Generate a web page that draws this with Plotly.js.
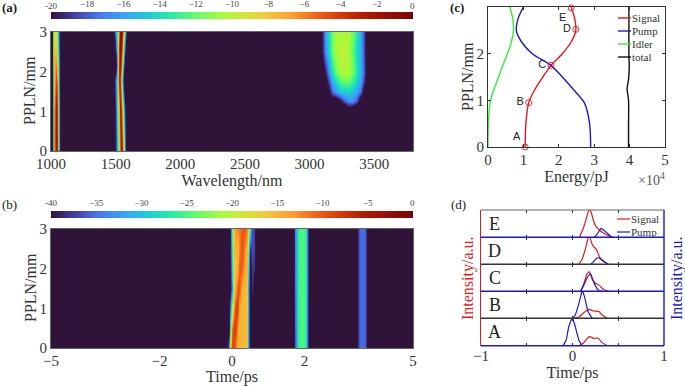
<!DOCTYPE html>
<html><head><meta charset="utf-8">
<script src="https://cdn.plot.ly/plotly-3.0.1.min.js"></script>
<style>html,body{margin:0;padding:0;background:#fff}#c{width:685px;height:386px}</style>
</head><body><div id="c"></div>
<script>
// ---- (a) spectrum, dB vs wavelength (nm) and PPLN position (mm)
const specSignalNm = [1005,1013,1020,1028,1036,1044,1052,1060,1068];
const specSignalMm = [0,1,1.7,2.2,3];
const specSignalDb = [
 [-22,-19,-13,-6,-1.5,-3,-11,-17,-22],
 [-22,-19,-13,-6,-2,-3.5,-11,-17,-22],
 [-22,-19,-13,-8,-3.5,-6,-12,-18,-22],
 [-22,-18,-12,-7,-6,-9,-13,-18,-22],
 [-22,-17,-11,-9,-10,-13,-16,-19,-22]];
const specPumpNm = [1482,1490,1498,1506,1514,1522,1530,1538,1546,1554,1562,1570,1578,1586];
const specPumpMm = [0,1,1.8,2.2,2.6,3];
const specPumpDb = [
 [-22,-22,-19,-16,-14,-11,-6,-2.5,-2,-6,-11,-16,-22,-22],
 [-22,-20,-18,-15,-12,-8,-3,-2,-6,-11,-15,-19,-22,-22],
 [-22,-19,-17,-14,-9,-3,-2.5,-7,-13,-18,-22,-22,-22,-22],
 [-22,-22,-22,-18,-11,-4,-1.5,-3,-8,-13,-18,-22,-22,-22],
 [-22,-21,-18,-15,-10,-4,-1,-1,-4,-9,-14,-18,-22,-22],
 [-22,-18,-16,-14,-11,-6,-1.5,-0.5,-2,-5,-9,-14,-18,-22]];
const specIdlerNm = [3060,3090,3120,3150,3180,3210,3240,3270,3300,3330,3360,3390,3420,3450,3480];
const specIdlerMm = [1,1.12,1.25,1.5,1.75,2,2.5,3];
const specIdlerDb = [
 [-22,-22,-22,-22,-22,-22,-22,-22,-22,-22,-22,-22,-22,-22,-22],
 [-22,-22,-22,-22,-22,-22,-22,-22,-20,-20.5,-22,-22,-22,-22,-22],
 [-22,-22,-22,-22,-22,-22,-20,-18,-16.5,-16.5,-18,-22,-22,-22,-22],
 [-22,-22,-22,-20,-17.5,-16,-15,-14.5,-14.5,-15,-16,-17.5,-21,-22,-22],
 [-22,-22,-21,-18,-15.5,-14,-12.5,-12,-12,-13,-14.5,-16,-18.5,-22,-22],
 [-22,-22,-19.5,-16,-13.5,-11.5,-10.5,-10,-10.5,-11.5,-13.5,-15.5,-17.5,-22,-22],
 [-22,-20.5,-16.5,-14,-11.5,-10.5,-10,-10,-10.5,-12,-14,-15.5,-18,-22,-22],
 [-22,-20.5,-16,-13.5,-11.5,-10.5,-10.5,-10.5,-10.5,-11.5,-13.5,-15.5,-18,-22,-22]];
const wavelengthTicks = [1000,1500,2000,2500,3000,3500];
const specBarTicks = [-18,-16,-14,-12,-10,-8,-6,-4,-2];

// ---- (b) temporal, dB vs time (ps) and PPLN position (mm)
const timeMainPs = [-0.2,-0.15,-0.1,-0.05,0,0.05,0.1,0.15,0.2,0.25,0.3,0.35,0.4,0.45,0.5,0.55,0.6,0.65,0.7];
const timeMainMm = [0,0.5,1,1.5,2,2.5,3];
const timeMainDb = [
 [-42,-42,-34,-18,-8.5,-9,-12.5,-15,-15,-15,-15,-15,-16,-30,-42,-42,-42,-42,-42],
 [-42,-42,-42,-30,-12,-8,-9,-14,-15,-15,-15,-15,-16,-30,-42,-42,-42,-42,-42],
 [-42,-42,-42,-36,-22,-13,-8,-9,-14,-15,-15,-15,-16,-30,-42,-42,-42,-42,-42],
 [-42,-42,-42,-42,-34,-17,-13,-9.5,-9.5,-13,-15,-15,-17,-31,-42,-38,-42,-42,-42],
 [-42,-42,-42,-42,-30,-16,-15,-14,-10.5,-10,-12,-14,-15,-26,-42,-38,-38,-42,-42],
 [-42,-42,-42,-42,-28,-15,-15,-15,-13,-10,-10,-13,-15,-22,-38,-37,-37,-42,-42],
 [-42,-42,-42,-42,-26,-15,-13,-12,-12,-11,-10,-10,-12,-14,-28,-37,-37,-42,-42]];
const timeSidePs = [1.70,1.74,1.78,1.83,1.9,1.98,2.04,2.08,2.12];
const timeSideMm = [0,3];
const timeSideDb = [
 [-42,-36,-31,-26,-25,-25,-27,-34,-42],
 [-42,-34,-30,-26,-25,-25,-27,-33,-42]];
const timeFarPs = [3.42,3.47,3.52,3.58,3.66,3.71,3.75];
const timeFarMm = [0,3];
const timeFarDb = [
 [-42,-38,-35.5,-35,-35.5,-38,-42],
 [-42,-38,-35.5,-35,-35.5,-38,-42]];
const timeTicks = [-5,-2,0,2,5];
const timeBarTicks = [-35,-30,-25,-20,-15,-10,-5];

// ---- (c) energy along the crystal (x 10^4 pJ)
const energyMm     = [0,0.5,0.95,1.2,1.5,1.75,2,2.25,2.5,2.75,3];
const energySignal = [1.05,1.07,1.15,1.3,1.55,1.78,2.1,2.35,2.48,2.45,2.35];
const energyPump   = [2.9,2.87,2.72,2.45,2.1,1.78,1.25,0.95,0.8,0.85,1.0];
const energyIdler  = [0,0.01,0.06,0.15,0.3,0.42,0.55,0.66,0.72,0.7,0.62];
const totalMm      = [0,0.5,1,1.25,1.45,1.7,2,2.5,3];
const energyTotal  = [3.97,3.97,3.97,3.93,3.97,3.99,3.98,3.98,3.98];
const pointNames   = ['A','B','C','D','E'];
const pointEnergy  = [1.05,1.15,1.78,2.48,2.35];
const pointMm      = [0,0.95,1.75,2.52,2.98];

// ---- (d) pulse shapes at the five points
const rowNames = ['E','D','C','B','A'];
const signalPs = [
 [0.076,0.12,0.156,0.18,0.2,0.23,0.26,0.3,0.356,0.41,0.45],
 [0.065,0.1,0.14,0.175,0.19,0.22,0.26,0.3,0.34,0.39],
 [0.087,0.12,0.16,0.185,0.215,0.25,0.295,0.34,0.4],
 [0.015,0.07,0.12,0.18,0.23,0.29,0.32,0.38],
 [-0.1,0.07,0.12,0.185,0.23,0.28,0.32,0.38]];
const signalAmp = [
 [0,0.35,0.75,1,0.95,0.6,0.38,0.25,0.12,0.03,0],
 [0,0.15,0.55,1,0.98,0.7,0.55,0.25,0.12,0],
 [0,0.25,0.65,0.72,0.45,0.3,0.22,0.06,0],
 [0,0.05,0.2,0.33,0.27,0.25,0.13,0],
 [0.01,0,0.1,0.33,0.27,0.27,0.12,0]];
const pumpPs = [
 [0.235,0.265,0.31,0.34,0.38,0.43],
 [0.2,0.235,0.27,0.3,0.34,0.39],
 [0.087,0.12,0.16,0.196,0.22,0.25,0.29,0.32],
 [0,0.03,0.07,0.1,0.11,0.135,0.17,0.215],
 [-0.105,-0.07,-0.04,0,0.03,0.07,0.105]];
const pumpAmp = [
 [0,0.1,0.32,0.27,0.15,0],
 [0,0.12,0.24,0.22,0.1,0],
 [0,0.2,0.5,0.65,0.45,0.2,0.02,0],
 [0,0.12,0.55,0.95,1,0.75,0.25,0],
 [0,0.2,0.7,1,0.7,0.2,0]];
const dividerColors = ['#1a1acc','#333333','#1a1acc','#333333','#1a1acc'];
const pulseTicks = [-1,0,1];
const pulseMinorTicks = [-0.5,0.5];

const W = 685, H = 386;
const SERIF = '"Liberation Serif","Times New Roman",serif';
const SANS = '"Liberation Sans",Arial,sans-serif';
const RED = '#e8161c', BLUE = '#1a1acc', GREEN = '#33ee33', INK = '#333333', FRAME = '#666666', DARK = '#2f1339';
const TURBO = [[0,'#30123b'],[0.07,'#4145ab'],[0.13,'#4675ed'],[0.2,'#39a2fc'],[0.27,'#1bcfd4'],[0.33,'#24eca6'],[0.4,'#61fc6c'],[0.47,'#a4fc3b'],[0.53,'#d1e834'],[0.6,'#f3c63a'],[0.67,'#fe9b2d'],[0.73,'#f36315'],[0.8,'#d93806'],[0.87,'#b11901'],[1,'#7a0403']];
const dx = (a,b)=>[a/W,b/W];
const dy = (top,bot)=>[1-bot/H,1-top/H];

const traces = [];
function heat(x,y,z,xa,ya,ca){ traces.push({type:'heatmap',x,y,z,xaxis:xa,yaxis:ya,coloraxis:ca,zsmooth:'best',hoverinfo:'skip'}); }
heat(specSignalNm,specSignalMm,specSignalDb,'x','y','coloraxis');
heat(specPumpNm,specPumpMm,specPumpDb,'x','y','coloraxis');
heat(specIdlerNm,specIdlerMm,specIdlerDb,'x','y','coloraxis');
heat(timeMainPs,timeMainMm,timeMainDb,'x2','y2','coloraxis2');
heat(timeSidePs,timeSideMm,timeSideDb,'x2','y2','coloraxis2');
heat(timeFarPs,timeFarMm,timeFarDb,'x2','y2','coloraxis2');

function eline(name,x,y,color){ traces.push({type:'scatter',mode:'lines',name,x,y,xaxis:'x3',yaxis:'y3',legend:'legend',
  line:{color,width:1.4,shape:'spline',smoothing:0.8}}); }
eline('Signal',energySignal,energyMm,RED);
eline('Pump',energyPump,energyMm,BLUE);
eline('Idler',energyIdler,energyMm,GREEN);
eline('total',energyTotal,totalMm,'#111111');
traces.push({type:'scatter',mode:'markers+text',x:pointEnergy,y:pointMm,xaxis:'x3',yaxis:'y3',showlegend:false,cliponaxis:false,
  text:pointNames,textposition:['top left','middle left','middle left','middle left','bottom left'],
  textfont:{family:SANS,size:11,color:'#222'},
  marker:{symbol:'circle-open',size:6,color:RED,line:{width:0.9,color:RED}}});

const cb = (yPx,vals)=>({orientation:'h',x:232/W,xanchor:'center',y:1-yPx/H,yanchor:'bottom',
    lenmode:'pixels',len:362,thicknessmode:'pixels',thickness:7,xpad:0,ypad:0,outlinewidth:0,ticks:'inside',ticklen:9,tickcolor:'rgba(0,0,0,0)',
    ticklabelposition:'inside',tickfont:{family:SERIF,size:9,color:'#444'},tickmode:'array',tickvals:vals});
const rowTop = [210,237.3,264.3,291.3,318.3], rowBot = [237.3,264.3,291.3,318.3,345.7];
const layout = {
  width:W,height:H,autosize:false,margin:{l:0,r:0,t:0,b:0},paper_bgcolor:'#fff',plot_bgcolor:'#fff',
  font:{family:SERIF,color:INK,size:14},
  coloraxis:{colorscale:TURBO,cmin:-20,cmax:0,colorbar:cb(19.5,specBarTicks)},
  coloraxis2:{colorscale:TURBO,cmin:-40,cmax:0,colorbar:cb(217.5,timeBarTicks)},
  legend:{x:592/W,xanchor:'left',y:1-3/H,yanchor:'top',bgcolor:'rgba(0,0,0,0)',borderwidth:0,tracegroupgap:0,font:{family:SERIF,size:11,color:INK},itemclick:false},
  legend2:{x:591/W,xanchor:'left',y:1-205/H,yanchor:'top',bgcolor:'rgba(0,0,0,0)',borderwidth:0,tracegroupgap:0,font:{family:SERIF,size:11,color:INK},itemclick:false},
  shapes:[
    {type:'rect',xref:'x domain',yref:'y domain',x0:0,x1:1,y0:0,y1:1,fillcolor:DARK,line:{width:0},layer:'below'},
    {type:'rect',xref:'x2 domain',yref:'y2 domain',x0:0,x1:1,y0:0,y1:1,fillcolor:DARK,line:{width:0},layer:'below'}
  ],annotations:[]
};
function base(extra){ return Object.assign({showline:true,mirror:true,linecolor:FRAME,linewidth:1,showgrid:false,zeroline:false,ticks:'',ticklabelstandoff:-1,tickfont:{family:SERIF,size:15,color:INK}},extra); }
const xTitle = (t,s)=>({text:t,font:{family:SERIF,size:16,color:INK},standoff:s||0});
layout.xaxis = base({domain:dx(51,413),anchor:'y',range:[1000,3800],tickmode:'array',tickvals:wavelengthTicks,title:xTitle('Wavelength/nm')});
layout.yaxis = base({domain:dy(32,151),anchor:'x',range:[0,3],tickvals:[0,1,2,3],ticklabelstandoff:0});
layout.xaxis2 = base({domain:dx(51,413),anchor:'y2',range:[-5,5],tickmode:'array',tickvals:timeTicks,title:xTitle('Time/ps')});
layout.yaxis2 = base({domain:dy(229,348),anchor:'x2',range:[0,3],tickvals:[0,1,2,3],ticklabelstandoff:0});
layout.xaxis3 = base({domain:dx(488,665),anchor:'y3',range:[0,5],tickvals:[0,1,2,3,4,5],mirror:'ticks',ticks:'inside',ticklen:3,linecolor:INK,tickcolor:INK,title:xTitle('Energy/pJ')});
layout.yaxis3 = base({domain:dy(7,147),anchor:'x3',range:[0,3],tickvals:[0,1,2,3],mirror:'ticks',ticks:'inside',ticklen:3,linecolor:INK,tickcolor:INK,ticklabelstandoff:0});

// panel (d): five stacked rows sharing the time range
rowNames.forEach((nm,i)=>{
  const n = 4+i, xk='xaxis'+n, yk='yaxis'+n, xr='x'+n, yr='y'+n, last = i===4;
  layout[xk] = {domain:dx(481,664),anchor:yr,range:[-1,1],showline:false,showgrid:false,zeroline:false,mirror:'ticks',ticks:'inside',ticklen:2.5,tickcolor:INK,tickwidth:1,
    tickmode:'array',tickvals:pulseTicks,showticklabels:last,minor:{tickmode:'array',tickvals:pulseMinorTicks,ticks:'inside',ticklen:2.5,tickcolor:INK,tickwidth:1}};
  if(last){ layout[xk].tickfont={family:SERIF,size:15,color:INK}; layout[xk].ticklabelstandoff=-1; layout[xk].title=xTitle('Time/ps',3); }
  layout[yk] = {domain:dy(rowTop[i],rowBot[i]),anchor:xr,range:[0,1],showline:true,linecolor:RED,linewidth:1.4,showgrid:false,zeroline:false,ticks:'',showticklabels:false};
  const showlegend = i===0;
  traces.push({type:'scatter',mode:'lines',name:'Signal',x:signalPs[i],y:signalAmp[i],xaxis:xr,yaxis:yr,legend:'legend2',showlegend,line:{color:RED,width:1.2,shape:'spline',smoothing:0.6}});
  traces.push({type:'scatter',mode:'lines',name:'Pump',x:pumpPs[i],y:pumpAmp[i],xaxis:xr,yaxis:yr,legend:'legend2',showlegend,line:{color:BLUE,width:1.2,shape:'spline',smoothing:0.6}});
  layout.shapes.push({type:'line',xref:xr+' domain',yref:yr+' domain',x0:0,x1:1,y0:0,y1:0,line:{color:dividerColors[i],width:1.4},layer:'above'});
  layout.annotations.push({xref:xr,yref:yr+' domain',x:-0.85,y:0.5,text:nm,showarrow:false,xanchor:'center',yanchor:'middle',font:{family:SERIF,size:18,color:'#222'}});
});
layout.shapes.push({type:'line',xref:'x4 domain',yref:'paper',x0:0,x1:1,y0:1-210/H,y1:1-210/H,line:{color:FRAME,width:1.2},layer:'above'});
layout.shapes.push({type:'line',xref:'x4 domain',yref:'paper',x0:1,x1:1,y0:1-345.7/H,y1:1-210/H,line:{color:BLUE,width:1.4},layer:'above'});

function note(text,px,py,font,extra){ layout.annotations.push(Object.assign({xref:'paper',yref:'paper',x:px/W,y:1-py/H,text,showarrow:false,xanchor:'center',yanchor:'middle',font},extra||{})); }
const lab = {family:SERIF,size:13,color:'#222'};
const yt = c=>({family:SERIF,size:16,color:c});
const bt = {family:SERIF,size:9,color:'#444'};
note('-20',51,6,bt); note('0',413,6,bt);
note('-40',51,203,bt); note('0',413,203,bt);
note('<b>(a)</b>',9,8,lab);
note('(b)',9,204,lab);
note('<b>(c)</b>',457,8,lab);
note('(d)',458,204,lab);
note('×10<sup>4</sup>',651,179,{family:SERIF,size:14,color:'#555'});
note('PPLN/mm',30,91,yt(INK),{textangle:-90});
note('PPLN/mm',30,288,yt(INK),{textangle:-90});
note('PPLN/mm',467,77,yt(INK),{textangle:-90});
note('Intensity/a.u.',468,278,yt(RED),{textangle:-90});
note('Intensity/a.u.',677,278,yt(BLUE),{textangle:-90});

const legendCenters = [[18,31,44,57],[219,232]];
Plotly.newPlot('c',traces,layout,{displayModeBar:false,staticPlot:true}).then(gd=>{
  // the reference draws short, tightly spaced legend keys
  gd.querySelectorAll('.legendlines path').forEach(p=>p.setAttribute('d','M26,0h13'));
  gd.querySelectorAll('.legend, .legend2').forEach((lg,k)=>{
    const m = /translate\(([-\d.]+)[ ,]+([-\d.]+)/.exec(lg.getAttribute('transform'));
    const top = m ? +m[2] : 0;
    lg.querySelectorAll('.traces').forEach((t,i)=>t.setAttribute('transform','translate(0,'+(legendCenters[k][i]-top)+')'));
  });
});
</script></body></html>
